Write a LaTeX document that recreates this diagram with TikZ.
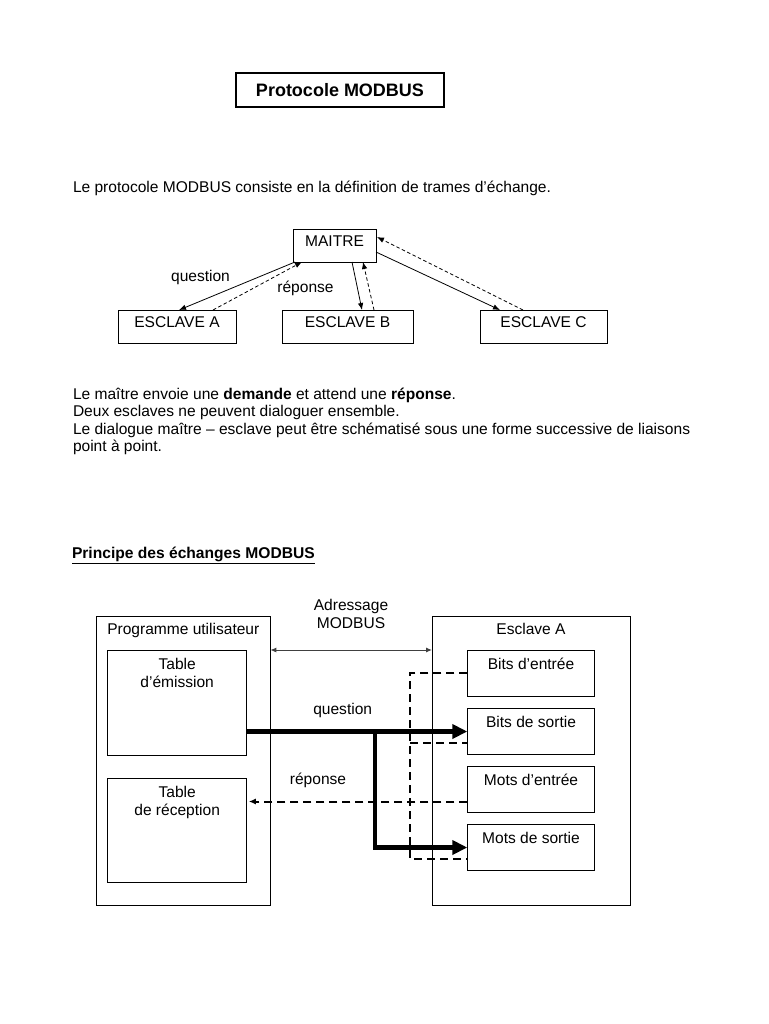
\documentclass[tikz,border=0pt]{standalone}
\usepackage{fontspec}
\setmainfont{Liberation Sans}
\usetikzlibrary{arrows.meta,calc}
\begin{document}
\begin{tikzpicture}[x=1pt,y=-1pt,
  every node/.style={font=\fontsize{15.55}{17.5}\selectfont, inner sep=0pt, outer sep=0pt},
  tbox/.style={draw, line width=0.9pt, minimum height=33pt, text height=10.9pt, text depth=9pt},
  box/.style={draw, line width=0.9pt},
  qarr/.style={line width=0.8pt, -{Latex[length=7pt,width=5.5pt]}},
  rarr/.style={qarr, dash pattern=on 3.5pt off 2.5pt},
  thk/.style={line width=4.5pt, -{Triangle[length=15pt,width=14pt]}},
  coll/.style={line width=2pt, dash pattern=on 8pt off 5pt},
  dbl/.style={line width=1pt, black!75, {Latex[length=6pt,width=5pt]}-{Latex[length=6pt,width=5pt]}}
]
\fill[white] (0,0) rectangle (768,1024);
\useasboundingbox (0,0) rectangle (768,1024);

% title
\node[draw, line width=1.1pt, minimum width=208pt, minimum height=34pt,
      font=\fontsize{18}{21}\selectfont\bfseries] (T) at (340,90) {Protocole MODBUS};

\node[anchor=base west] (t1) at (73,193) {Le protocole MODBUS consiste en la définition de trames d’échange.};

% top diagram
\node[tbox, minimum width=83pt] (M) at (334.5,245.5) {MAITRE};
\node[tbox, minimum width=118pt] (A) at (177,326.5) {ESCLAVE A};
\node[tbox, minimum width=131pt] (B) at (347.5,326.5) {ESCLAVE B};
\node[tbox, minimum width=127pt] (C) at (543.5,326.5) {ESCLAVE C};

\draw[qarr] ($(M.south west)+(2,0)$) -- ($(A.north west)+(61,0)$);
\draw[rarr] ($(A.north west)+(95,0)$) -- ($(M.south west)+(9,0)$);
\draw[qarr] ($(M.south west)+(59,0)$) -- ($(B.north west)+(80,0)$);
\draw[rarr] ($(B.north west)+(92,0)$) -- ($(M.south west)+(70,0)$);
\draw[qarr] ($(M.east)+(0,6.5)$) -- ($(C.north west)+(20,0)$);
\draw[rarr] ($(C.north west)+(43,0)$) -- ($(M.north east)+(1,8)$);

\node[anchor=base] (lq) at (200.5,281) {question};
\node[anchor=base] (lr) at (305.5,292.5) {réponse};

% text block
\node[anchor=base west] (p1) at (73,399) {Le maître envoie une \textbf{demande} et attend une \textbf{réponse}.};
\node[anchor=base west] (p2) at (73,416.5) {Deux esclaves ne peuvent dialoguer ensemble.};
\node[anchor=base west] (p3) at (73,434) {Le dialogue maître – esclave peut être schématisé sous une forme successive de liaisons};
\node[anchor=base west] (p4) at (73,451.5) {point à point.};

\node[anchor=base west, font=\fontsize{15.6}{17.5}\selectfont\bfseries] (h2) at (72,558) {\underline{Principe des échanges MODBUS}};

% bottom diagram
\node[box, minimum width=174pt, minimum height=289pt] (P) at (183.3,760.5) {};
\node[box, minimum width=139.3pt, minimum height=105pt] (TE) at (177.15,702.5) {};
\node[box, minimum width=139.3pt, minimum height=104.3pt] (TR) at (177.15,830.15) {};
\node[box, minimum width=198pt, minimum height=289pt] (E) at (531,760.5) {};
\node[box, minimum width=127.4pt, minimum height=46.5pt] (BE) at (531,673.3) {};
\node[box, minimum width=127.4pt, minimum height=46.5pt] (BS) at (531,731.5) {};
\node[box, minimum width=127.4pt, minimum height=46.5pt] (ME) at (531,789.5) {};
\node[box, minimum width=127.4pt, minimum height=46.5pt] (MS) at (531,847.5) {};

\node[anchor=base] (lP) at ($(P.north)+(0,18)$) {Programme utilisateur};
\node[anchor=base] (lE) at ($(E.north)+(0,18)$) {Esclave A};
\node[anchor=base] (lTE1) at ($(TE.north)+(0,19.5)$) {Table};
\node[anchor=base] (lTE2) at ($(TE.north)+(0,37)$) {d’émission};
\node[anchor=base] (lTR1) at ($(TR.north)+(0,19.5)$) {Table};
\node[anchor=base] (lTR2) at ($(TR.north)+(0,37)$) {de réception};
\node[anchor=base] (lBE) at ($(BE.north)+(0,19.5)$) {Bits d’entrée};
\node[anchor=base] (lBS) at ($(BS.north)+(0,19.5)$) {Bits de sortie};
\node[anchor=base] (lME) at ($(ME.north)+(0,19.5)$) {Mots d’entrée};
\node[anchor=base] (lMS) at ($(MS.north)+(0,19.5)$) {Mots de sortie};

\node[anchor=base] (ad1) at (351,610.5) {Adressage};
\node[anchor=base] (ad2) at (351,628.2) {MODBUS};
\node[anchor=base] (lq2) at (342.7,714.5) {question};
\node[anchor=base] (lr2) at (318,784.5) {réponse};

\draw[dbl] ($(P.north east)+(0,34)$) -- ($(E.north west)+(0,34)$);

% dashed collector
\coordinate (V1) at ($(BE.west)+(-57.3,0)$);
\coordinate (BSd) at ($(BS.west)+(0,11.5)$);
\coordinate (MEd) at ($(ME.west)+(0,12)$);
\coordinate (MSd) at ($(MS.west)+(0,11.5)$);
\draw[coll] (BE.west) -- (V1) -- (V1 |- MSd) -- (MSd);
\draw[coll] (V1 |- BSd) -- (BSd);
\draw[coll, -{Latex[length=7pt,width=6pt]}] (MEd) -- ($(TR.east |- MEd)+(2,0)$);

% thick question arrows
\coordinate (J0) at (TE.east |- BS.west);
\coordinate (J) at ($(J0)+(128.2,0)$);
\draw[thk] (J0) -- (BS.west);
\draw[thk] ($(J)+(0,-2.25)$) |- (MS.west);
\end{tikzpicture}
\end{document}
